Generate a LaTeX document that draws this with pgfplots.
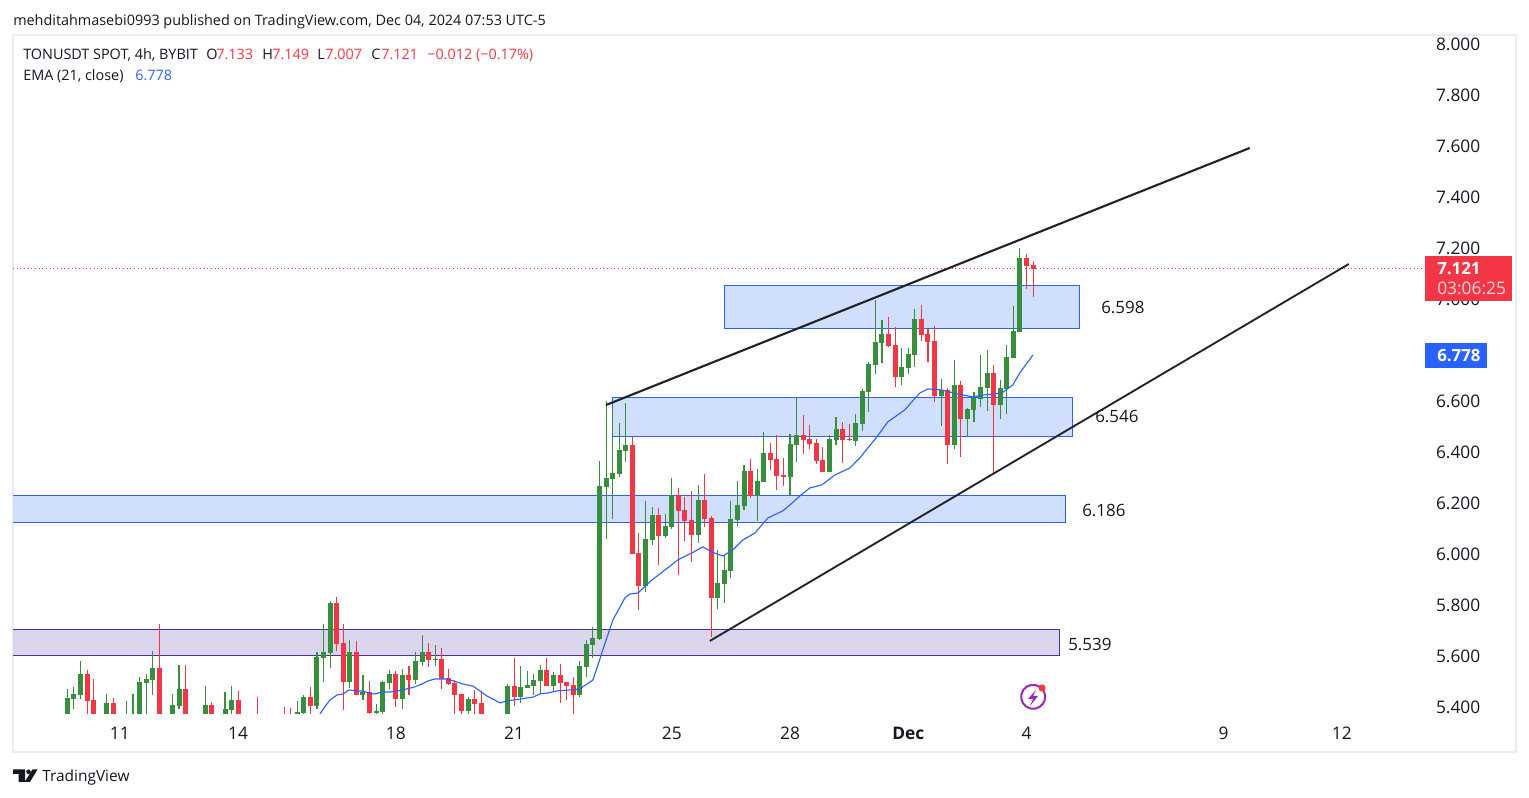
\documentclass[border=0pt]{standalone}
\usepackage{fontspec}
\setmainfont{Open Sans}
\usepackage{pgfplots}
\usepackage{pgfplotstable}
\pgfplotsset{compat=1.18}
\definecolor{upc}{HTML}{388E3C}
\definecolor{downc}{HTML}{F23645}
\definecolor{emac}{HTML}{2962FF}
\definecolor{zonefill}{HTML}{D1DFFE}
\definecolor{purplefill}{HTML}{DBD6EE}
\definecolor{purpleline}{HTML}{4A2F9A}
\definecolor{framec}{HTML}{EBEBF1}
\definecolor{inkc}{HTML}{131722}
\definecolor{linec}{HTML}{22222A}
\definecolor{boltc}{HTML}{9C27B0}

% candle number (0 = the 11th, six candles a day), open, high, low, close
\pgfplotstableread{
t o h l c
-8 5.369 5.467 5.369 5.431
-7 5.427 5.475 5.388 5.447
-6 5.443 5.576 5.427 5.525
-2 5.369 5.447 5.369 5.412
1 5.369 5.420 5.369 5.369
2 5.369 5.447 5.369 5.369
3 5.369 5.514 5.369 5.494
4 5.490 5.525 5.369 5.506
5 5.502 5.616 5.443 5.549
8 5.369 5.447 5.369 5.404
9 5.400 5.561 5.388 5.467
13 5.369 5.478 5.369 5.404
16 5.369 5.455 5.369 5.388
17 5.384 5.478 5.369 5.424
27 5.369 5.420 5.369 5.376
28 5.373 5.443 5.369 5.435
30 5.400 5.612 5.388 5.592
31 5.588 5.722 5.494 5.612
32 5.608 5.812 5.549 5.804
35 5.494 5.659 5.471 5.612
37 5.443 5.522 5.424 5.455
39 5.373 5.408 5.369 5.380
40 5.376 5.498 5.369 5.494
41 5.490 5.541 5.467 5.525
43 5.427 5.545 5.388 5.522
45 5.502 5.612 5.486 5.576
46 5.573 5.678 5.557 5.612
48 5.580 5.639 5.557 5.584
53 5.380 5.435 5.369 5.427
59 5.369 5.486 5.369 5.478
61 5.435 5.557 5.412 5.475
62 5.471 5.537 5.471 5.482
63 5.478 5.525 5.443 5.502
64 5.498 5.561 5.447 5.541
66 5.478 5.533 5.455 5.522
70 5.443 5.576 5.435 5.557
71 5.553 5.659 5.514 5.643
72 5.639 5.710 5.588 5.667
73 5.663 6.361 5.659 6.263
74 6.259 6.596 6.055 6.294
75 6.290 6.561 6.133 6.314
76 6.310 6.510 6.298 6.404
77 6.400 6.588 6.357 6.424
80 5.871 6.204 5.847 6.055
81 6.051 6.180 6.031 6.149
83 6.067 6.153 6.059 6.106
84 6.102 6.294 6.094 6.227
88 6.071 6.267 6.039 6.208
91 5.824 6.012 5.780 5.882
92 5.878 5.992 5.804 5.933
93 5.929 6.204 5.902 6.133
94 6.129 6.282 6.106 6.188
95 6.184 6.345 6.169 6.322
97 6.224 6.329 6.125 6.282
98 6.278 6.475 6.278 6.392
102 6.298 6.467 6.227 6.427
103 6.424 6.612 6.357 6.463
108 6.318 6.463 6.318 6.447
109 6.443 6.533 6.424 6.486
112 6.439 6.545 6.420 6.510
113 6.506 6.643 6.478 6.635
114 6.631 6.749 6.553 6.741
115 6.737 6.992 6.702 6.827
116 6.824 6.914 6.745 6.859
119 6.690 6.804 6.659 6.729
120 6.725 6.804 6.702 6.780
121 6.776 6.957 6.729 6.918
125 6.616 6.682 6.498 6.639
127 6.424 6.757 6.408 6.659
129 6.525 6.569 6.459 6.565
130 6.561 6.631 6.514 6.608
131 6.604 6.776 6.573 6.651
132 6.647 6.796 6.557 6.706
134 6.580 6.678 6.525 6.647
135 6.643 6.816 6.545 6.769
136 6.765 6.969 6.765 6.871
137 6.867 7.196 6.867 7.157
}\upcandles

\pgfplotstableread{
t o h l c
-5 5.525 5.541 5.369 5.420
-4 5.424 5.506 5.369 5.369
-1 5.412 5.431 5.369 5.369
6 5.549 5.722 5.369 5.369
10 5.467 5.561 5.369 5.369
14 5.404 5.416 5.369 5.369
18 5.424 5.459 5.369 5.369
21 5.369 5.435 5.369 5.369
25 5.369 5.396 5.369 5.369
26 5.369 5.392 5.369 5.369
29 5.435 5.475 5.369 5.400
33 5.804 5.827 5.616 5.643
34 5.647 5.722 5.384 5.494
36 5.612 5.655 5.443 5.443
38 5.455 5.498 5.369 5.373
42 5.525 5.537 5.396 5.427
44 5.522 5.557 5.443 5.502
47 5.612 5.647 5.553 5.580
49 5.584 5.627 5.467 5.506
50 5.510 5.545 5.482 5.486
51 5.490 5.502 5.369 5.443
52 5.447 5.447 5.369 5.380
54 5.427 5.463 5.369 5.408
55 5.412 5.459 5.369 5.369
60 5.478 5.588 5.400 5.435
65 5.541 5.588 5.478 5.478
67 5.522 5.565 5.412 5.490
68 5.494 5.494 5.424 5.478
69 5.482 5.514 5.369 5.443
78 6.424 6.455 5.996 5.996
79 6.000 6.078 5.776 5.871
82 6.149 6.176 5.953 6.067
85 6.227 6.255 5.914 6.165
86 6.169 6.220 6.047 6.125
87 6.129 6.243 5.965 6.071
89 6.208 6.310 6.102 6.133
90 6.137 6.145 5.671 5.824
96 6.322 6.369 6.216 6.224
99 6.392 6.431 6.325 6.365
100 6.369 6.463 6.247 6.302
101 6.306 6.373 6.263 6.298
104 6.463 6.541 6.388 6.443
105 6.447 6.502 6.408 6.427
106 6.431 6.447 6.349 6.361
107 6.365 6.416 6.318 6.318
110 6.486 6.514 6.353 6.443
111 6.447 6.506 6.439 6.443
117 6.859 6.925 6.808 6.812
118 6.816 6.886 6.651 6.690
122 6.918 6.973 6.831 6.855
123 6.859 6.878 6.749 6.827
124 6.831 6.890 6.592 6.616
126 6.639 6.647 6.349 6.424
128 6.659 6.675 6.376 6.525
133 6.706 6.737 6.314 6.580
138 7.157 7.173 7.035 7.125
139 7.129 7.145 7.004 7.114
}\downcandles

\begin{document}
\begin{tikzpicture}[x=0.75pt,y=0.75pt]
\path[use as bounding box] (-13,-46) rectangle (1516,752);
\begin{axis}[
    at={(0,0)}, anchor=south west,
    scale only axis,
    width=1127.25pt, height=537.75pt,
    xmin=-16.27, xmax=212.5,
    ymin=5.2196, ymax=8.031,
    axis line style={framec, line width=1.5pt},
    major tick length=0pt,
    xtick={0,18,42,60,84,102,120,138,168,186},
    xticklabels={11,14,18,21,25,28,\textbf{Dec},4,9,12},
    ytick={5.4,5.6,5.8,6.0,6.2,6.4,6.6,6.8,7.0,7.2,7.4,7.6,7.8,8.0},
    yticklabels={5.400,5.600,5.800,6.000,6.200,6.400,6.600,6.800,7.000,7.200,7.400,7.600,7.800,8.000},
    yticklabel pos=right,
    tick label style={text=inkc, font=\fontsize{13}{14}\selectfont},
    yticklabel style={anchor=west, xshift=-63.5pt, yshift=-0.75pt},
    xticklabel style={anchor=base, yshift=9pt},
  ]
  % zones
  \addplot[fill=purplefill, draw=purpleline, line width=0.8pt] coordinates {(-20,5.700)(143.0,5.700)(143.0,5.598)(-20,5.598)} --cycle;
  \addplot[fill=zonefill, draw=emac, line width=0.8pt] coordinates {(-20,6.227)(143.98,6.227)(143.98,6.120)(-20,6.120)} --cycle;
  \addplot[fill=zonefill, draw=emac, line width=0.8pt] coordinates {(75.05,6.609)(145.0,6.609)(145.0,6.456)(75.05,6.456)} --cycle;
  \addplot[fill=zonefill, draw=emac, line width=0.8pt] coordinates {(91.96,7.049)(146.1,7.049)(146.1,6.880)(91.96,6.880)} --cycle;
  % last price
  \addplot[downc, line width=0.75pt, dotted] coordinates {(-16.27,7.116)(198.4,7.116)};
  % candles
  \addplot[draw=none, no markers, error bars/.cd, y dir=both, y explicit, error mark=none,
    error bar style={draw=upc, line width=0.8pt}]
    table[x=t, y=o, y error plus expr=\thisrow{h}-\thisrow{o}, y error minus expr=\thisrow{o}-\thisrow{l}] {\upcandles};
  \addplot[draw=none, no markers, error bars/.cd, y dir=both, y explicit, error mark=none,
    error bar style={draw=downc, line width=0.8pt}]
    table[x=t, y=o, y error plus expr=\thisrow{h}-\thisrow{o}, y error minus expr=\thisrow{o}-\thisrow{l}] {\downcandles};
  \addplot[draw=none, no markers, error bars/.cd, y dir=plus, y explicit, error mark=none,
    error bar style={draw=upc, line width=3.75pt}]
    table[x=t, y=o, y error plus expr=\thisrow{c}-\thisrow{o}] {\upcandles};
  \addplot[draw=none, no markers, error bars/.cd, y dir=minus, y explicit, error mark=none,
    error bar style={draw=downc, line width=3.75pt}]
    table[x=t, y=o, y error minus expr=\thisrow{o}-\thisrow{c}] {\downcandles};
  % EMA 21
  \addplot[emac, line width=0.85pt] coordinates {
    (30.45,5.369)(31.07,5.392)(31.98,5.424)(33.04,5.443)(33.95,5.447)(34.87,5.463)
    (36.08,5.459)(37.0,5.459)(37.76,5.451)(38.82,5.447)(39.89,5.455)(41.1,5.455)
    (42.32,5.459)(43.69,5.467)(44.91,5.475)(45.97,5.486)(46.89,5.498)(47.95,5.506)
    (49.78,5.506)(51.3,5.494)(52.21,5.486)(53.74,5.478)(54.8,5.459)(55.87,5.439)
    (56.78,5.427)(57.85,5.412)(58.91,5.420)(60.89,5.427)(62.87,5.435)(63.93,5.447)
    (65.15,5.451)(66.52,5.459)(68.5,5.463)(70.0,5.467)(71.1,5.486)(72.0,5.502)
    (73.06,5.584)(73.5,5.620)(75.04,5.737)(76.87,5.824)(77.63,5.839)(78.85,5.843)
    (80.98,5.894)(82.96,5.933)(84.94,5.973)(87.05,6.0)(88.73,6.024)(90.1,6.004)
    (91.78,5.988)(93.3,6.012)(94.82,6.051)(96.65,6.078)(98.63,6.137)(100.9,6.165)
    (101.98,6.188)(103.65,6.227)(105.02,6.255)(106.85,6.267)(108.83,6.306)(111.11,6.333)
    (112.63,6.373)(115.22,6.455)(116.89,6.514)(119.47,6.561)(121.75,6.627)(122.98,6.643)
    (125.11,6.639)(127.39,6.624)(129.83,6.612)(131.66,6.620)(134.24,6.627)(135.91,6.659)
    (136.98,6.706)(138.96,6.776)};
  % trend lines
  \addplot[linec, line width=1.6pt] coordinates {(73.98,6.580)(171.98,7.588)};
  \addplot[linec, line width=1.4pt] coordinates {(89.8,5.655)(187.05,7.133)};
\end{axis}
% overlay in image pixels
\begin{scope}[x=0.75pt,y=-0.75pt,shift={(-9.75pt,564pt)},
    every node/.style={inner sep=0pt, anchor=base west, text=inkc}]
  \node[font=\fontsize{10.8}{12}\selectfont] at (13,26) {mehditahmasebi0993 published on TradingView.com, Dec 04, 2024 07:53 UTC-5};
  \begin{scope}[every node/.append style={font=\fontsize{10.8}{12}\selectfont}]
    \node at (23,60) {TONUSDT SPOT, 4h, BYBIT};
    \node at (206,60) {O};
    \node[text=downc] at (216,60) {7.133};
    \node at (262,60) {H};
    \node[text=downc] at (272,60) {7.149};
    \node at (317,60) {L};
    \node[text=downc] at (325,60) {7.007};
    \node at (371,60) {C};
    \node[text=downc] at (381,60) {7.121};
    \node[text=downc] at (427,60) {−0.012 (−0.17\%)};
    \node at (23,81) {EMA (21, close)};
    \node[text=emac] at (135,81) {6.778};
  \end{scope}
  \begin{scope}[every node/.append style={font=\fontsize{12.7}{14}\selectfont}]
    \node at (1101,314) {6.598};
    \node at (1095,423) {6.546};
    \node at (1082,517) {6.186};
    \node at (1068,651) {5.539};
  \end{scope}
  % price labels on the scale
  \fill[downc] (1425,256) rectangle (1512,301);
  \fill[emac] (1425,343) rectangle (1487,368);
  \node[text=white, font=\bfseries\fontsize{12.6}{14}\selectfont] at (1437,275) {7.121};
  \node[text=white!80!downc, font=\fontsize{13}{14}\selectfont] at (1437,295) {03:06:25};
  \node[text=white, font=\bfseries\fontsize{12.6}{14}\selectfont] at (1437,362) {6.778};
  % bolt icon
  \draw[boltc, line width=1.5pt] (1040,687) arc[start angle=-55, end angle=-395, radius=12];
  \fill[downc] (1042,688) circle[radius=3.6];
  \fill[boltc] (1036,690) -- (1028,699) -- (1033,699) -- (1030,706) -- (1038,696) -- (1033,696) -- cycle;
  % logo
  \fill[inkc] (13,769.5) -- (25,769.5) -- (25,782) -- (18.5,782) -- (18.5,774) -- (13,774) -- cycle;
  \fill[inkc] (28.5,771.8) circle[radius=2.3];
  \fill[inkc] (32.5,769.5) -- (37.5,769.5) -- (30,782) -- (24.5,782) -- cycle;
  \node[font=\fontsize{11.6}{12}\selectfont] at (42,782) {TradingView};
\end{scope}
\end{tikzpicture}
\end{document}
